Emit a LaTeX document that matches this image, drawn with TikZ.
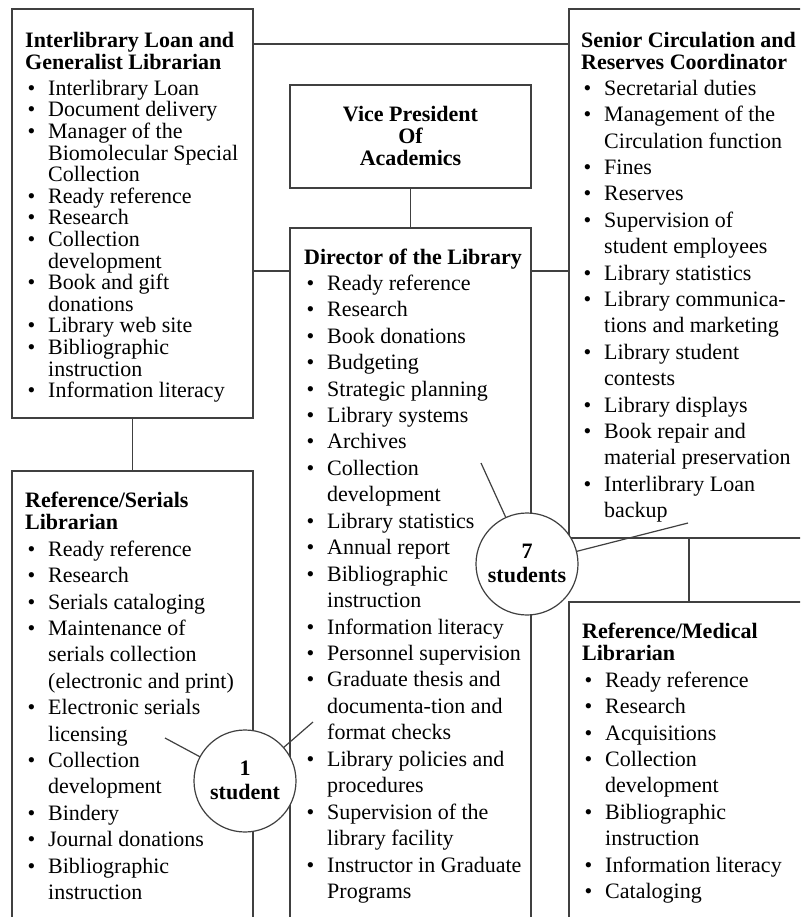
\documentclass[tikz,border=0pt]{standalone}
\usepackage{fontspec}
\setmainfont{Liberation Serif}
\setlength\lineskiplimit{-100pt}
\definecolor{linegray}{gray}{0.25}
% every text line carries the same strut: 18pt above, 6pt below the baseline
\newcommand\lstrut{\rule[-6pt]{0pt}{24pt}}
\newcommand\bitem[1]{\lstrut\makebox[23pt][l]{\hspace{2.5pt}\textbullet}#1}
\newcommand\bcont[1]{\lstrut\hspace{23pt}#1}
\tikzset{
  box/.style={rectangle, draw=linegray, line width=1.2pt, inner sep=0pt, outer sep=0pt, anchor=north west},
  link/.style={draw=linegray, line width=1.2pt},
  head/.style={anchor=north west, inner sep=0pt, align=left,
    font={\fontsize{22}{22}\selectfont\bfseries\lineskiplimit=-100pt}},
  items/.style={anchor=north west, inner sep=0pt, align=left,
    font={\fontsize{22}{26.4}\selectfont\lineskiplimit=-100pt}},
  tightitems/.style={items, font={\fontsize{22}{21.6}\selectfont\lineskiplimit=-100pt}},
  tally/.style={circle, draw=linegray, fill=white, line width=1.2pt, minimum size=102pt,
    inner sep=0pt, outer sep=0pt, align=center,
    font={\fontsize{22}{24}\selectfont\bfseries\lineskiplimit=-100pt}},
}
\begin{document}
\begin{tikzpicture}[x=1pt, y=-1pt]
\useasboundingbox (0,0) rectangle (800,917);
\fill[white] (0,0) rectangle (800,917);
\clip (0,0) rectangle (800,917);

% position boxes (the lower ones run past the bottom edge)
\node[box, minimum width=241pt, minimum height=409pt] (ill)  at (12,9)   {};
\node[box, minimum width=241pt, minimum height=103pt] (vp)   at (290,85)  {};
\node[box, minimum width=241pt, minimum height=712pt] (dir)  at (290,228) {};
\node[box, minimum width=240pt, minimum height=529pt] (circ) at (569,9)   {};
\node[box, minimum width=241pt, minimum height=469pt] (ser)  at (12,471)  {};
\node[box, minimum width=240pt, minimum height=338pt] (med)  at (569,602) {};

% reporting lines
\coordinate (toptap) at ([yshift=-35pt]ill.north east);
\draw[link] (toptap) -- (toptap -| circ.west);
\draw[link] (vp.south) -- (dir.north);
\coordinate (dirtapl) at ([yshift=-43pt]dir.north west);
\coordinate (dirtapr) at ([yshift=-43pt]dir.north east);
\draw[link] (dirtapl) -- (dirtapl -| ill.east);
\draw[link] (dirtapr) -- (dirtapr -| circ.west);
\draw[link] (ill.south) -- (ser.north);
\draw[link] (circ.south) -- (med.north);

% Vice President
\node[anchor=north, inner sep=0pt, align=center,
  font={\fontsize{22}{22}\selectfont\bfseries\lineskiplimit=-100pt}] (vptext) at (410.5,103)
  {\lstrut Vice President\\\lstrut Of\\\lstrut Academics};

% Interlibrary Loan and Generalist Librarian
\node[head] (illhead) at (25,29) {\lstrut Interlibrary Loan and\\\lstrut Generalist Librarian};
\node[tightitems] (illlist) at (25,77) {%
\bitem{Interlibrary Loan}\\
\bitem{Document delivery}\\
\bitem{Manager of the}\\
\bcont{Biomolecular Special}\\
\bcont{Collection}\\
\bitem{Ready reference}\\
\bitem{Research}\\
\bitem{Collection}\\
\bcont{development}\\
\bitem{Book and gift}\\
\bcont{donations}\\
\bitem{Library web site}\\
\bitem{Bibliographic}\\
\bcont{instruction}\\
\bitem{Information literacy}};

% Director of the Library
\node[head] (dirhead) at (304,246) {\lstrut Director of the Library};
\node[items, font={\fontsize{22}{26.45}\selectfont\lineskiplimit=-100pt}] (dirlist) at (304,272) {%
\bitem{Ready reference}\\
\bitem{Research}\\
\bitem{Book donations}\\
\bitem{Budgeting}\\
\bitem{Strategic planning}\\
\bitem{Library systems}\\
\bitem{Archives}\\
\bitem{Collection}\\
\bcont{development}\\
\bitem{Library statistics}\\
\bitem{Annual report}\\
\bitem{Bibliographic}\\
\bcont{instruction}\\
\bitem{Information literacy}\\
\bitem{Personnel supervision}\\
\bitem{Graduate thesis and}\\
\bcont{documenta-tion and}\\
\bcont{format checks}\\
\bitem{Library policies and}\\
\bcont{procedures}\\
\bitem{Supervision of the}\\
\bcont{library facility}\\
\bitem{Instructor in Graduate}\\
\bcont{Programs}};

% Senior Circulation and Reserves Coordinator
\node[head] (circhead) at (581,29) {\lstrut Senior Circulation and\\\lstrut Reserves Coordinator};
\node[items] (circlist) at (581,77) {%
\bitem{Secretarial duties}\\
\bitem{Management of the}\\
\bcont{Circulation function}\\
\bitem{Fines}\\
\bitem{Reserves}\\
\bitem{Supervision of}\\
\bcont{student employees}\\
\bitem{Library statistics}\\
\bitem{Library communica-}\\
\bcont{tions and marketing}\\
\bitem{Library student}\\
\bcont{contests}\\
\bitem{Library displays}\\
\bitem{Book repair and}\\
\bcont{material preservation}\\
\bitem{Interlibrary Loan}\\
\bcont{backup}};

% Reference/Serials Librarian
\node[head] (serhead) at (25,489) {\lstrut Reference/Serials\\\lstrut Librarian};
\node[items] (serlist) at (25,538) {%
\bitem{Ready reference}\\
\bitem{Research}\\
\bitem{Serials cataloging}\\
\bitem{Maintenance of}\\
\bcont{serials collection}\\
\bcont{(electronic and print)}\\
\bitem{Electronic serials}\\
\bcont{licensing}\\
\bitem{Collection}\\
\bcont{development}\\
\bitem{Bindery}\\
\bitem{Journal donations}\\
\bitem{Bibliographic}\\
\bcont{instruction}};

% Reference/Medical Librarian
\node[head] (medhead) at (582,620) {\lstrut Reference/Medical\\\lstrut Librarian};
\node[items] (medlist) at (582,669) {%
\bitem{Ready reference}\\
\bitem{Research}\\
\bitem{Acquisitions}\\
\bitem{Collection}\\
\bcont{development}\\
\bitem{Bibliographic}\\
\bcont{instruction}\\
\bitem{Information literacy}\\
\bitem{Cataloging}};

% student workers and the positions they support
\coordinate (s7a) at (481,463);
\coordinate (s7b) at (688,523);
\coordinate (s1a) at (165,738);
\coordinate (s1b) at (313,722);
\node[tally] (s7) at (527,564) {\lstrut 7\\\lstrut students};
\node[tally] (s1) at (245,781) {\lstrut 1\\\lstrut student};
\draw[link] (s7a) -- (s7);
\draw[link] (s7b) -- (s7);
\draw[link] (s1a) -- (s1);
\draw[link] (s1b) -- (s1);
\end{tikzpicture}
\end{document}
